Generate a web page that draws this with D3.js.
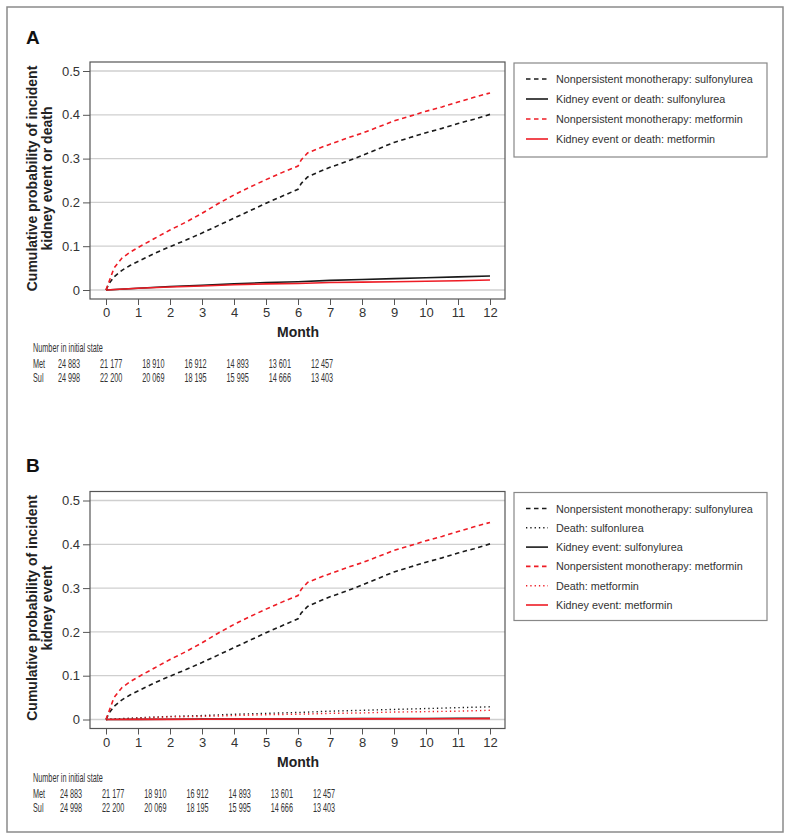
<!DOCTYPE html>
<html><head><meta charset="utf-8">
<script src="https://cdn.jsdelivr.net/npm/d3@7/dist/d3.min.js"></script>
<style>body{margin:0;background:#fff}svg{display:block}</style>
</head><body>
<script>
// ---------- DATA ----------
const monthTicks = [0,1,2,3,4,5,6,7,8,9,10,11,12];
const yTicks = [0,0.1,0.2,0.3,0.4,0.5];

const tDashed = [0,0.1,0.25,0.5,0.75,1,1.5,2,2.5,3,3.5,4,4.5,5,5.5,6,6.1,6.3,6.6,7,7.5,8,8.5,9,9.5,10,10.5,11,11.5,12];
const nonpersistMet = [0,0.02,0.05,0.073,0.086,0.097,0.117,0.137,0.155,0.175,0.197,0.217,0.235,0.252,0.268,0.283,0.297,0.313,0.322,0.333,0.346,0.358,0.372,0.386,0.397,0.408,0.418,0.429,0.44,0.45];
const nonpersistSul = [0,0.015,0.03,0.045,0.056,0.065,0.083,0.099,0.114,0.13,0.147,0.164,0.181,0.198,0.214,0.23,0.243,0.258,0.268,0.28,0.293,0.307,0.322,0.337,0.348,0.359,0.369,0.38,0.39,0.401];

const tEvent = [0,1,2,3,4,5,6,7,8,9,10,11,12];
const kidneyDeathSul = [0,0.004,0.008,0.011,0.014,0.017,0.019,0.022,0.024,0.026,0.028,0.030,0.032];
const kidneyDeathMet = [0,0.004,0.007,0.009,0.012,0.014,0.015,0.017,0.018,0.019,0.020,0.021,0.023];
const deathSul = [0,0.004,0.007,0.009,0.012,0.014,0.016,0.019,0.021,0.023,0.025,0.027,0.029];
const deathMet = [0,0.003,0.006,0.007,0.009,0.011,0.012,0.014,0.015,0.017,0.018,0.019,0.021];
const kidneySul = [0,0.0003,0.0006,0.0009,0.0011,0.0013,0.0015,0.0017,0.0019,0.0022,0.0024,0.0027,0.003];
const kidneyMet = [0,0.0002,0.0004,0.0006,0.0008,0.0009,0.0011,0.0012,0.0014,0.0015,0.0017,0.0018,0.002];

const riskRows = ["Met","Sul"];
const riskMet = ["24 883","21 177","18 910","16 912","14 893","13 601","12 457"];
const riskSul = ["24 998","22 200","20 069","18 195","15 995","14 666","13 403"];

const legendA = ["Nonpersistent monotherapy: sulfonylurea","Kidney event or death: sulfonylurea","Nonpersistent monotherapy: metformin","Kidney event or death: metformin"];
const legendB = ["Nonpersistent monotherapy: sulfonylurea","Death: sulfonlurea","Kidney event: sulfonylurea","Nonpersistent monotherapy: metformin","Death: metformin","Kidney event: metformin"];

// ---------- DRAW ----------
const W = 791, H = 840;
const RED = "#ee1c25", BLK = "#1a1a1a";
const FONT = "Liberation Sans, Arial, sans-serif";
const STY = {
  dash: {da:"4.5,3.5", w:1.6},
  dot:  {da:"1.3,3", w:1.4},
  solid:{da:null, w:1.6}
};
const svg = d3.select("body").append("svg").attr("width",W).attr("height",H);
svg.append("rect").attr("x",7).attr("y",7).attr("width",776).attr("height",825)
  .attr("fill","none").attr("stroke","#8a8a8a").attr("stroke-width",1.5);

function condensed(g, txt, x, y, anchor){
  return g.append("text").attr("transform",`translate(${x},${y}) scale(0.56,1)`)
    .attr("text-anchor",anchor||"start").text(txt)
    .attr("font-family",FONT).attr("font-size",13).attr("fill","#333");
}

function panel(o){
  const g = svg.append("g");
  const x = d3.scaleLinear().domain([0,12]).range([106,490]);
  const y = d3.scaleLinear().domain([0,0.5]).range([o.y0, o.y0-219]);
  const top = o.y0-228, bottom = o.y0+9;
  g.append("text").attr("x",26).attr("y",o.labelY).text(o.label)
    .attr("font-family",FONT).attr("font-weight","bold").attr("font-size",19).attr("fill","#111");
  g.selectAll(".grid").data(yTicks).join("line")
    .attr("x1",90).attr("x2",505).attr("y1",d=>y(d)).attr("y2",d=>y(d))
    .attr("stroke","#cfcfcf").attr("stroke-width",1.3);
  g.append("rect").attr("x",90).attr("y",top).attr("width",415).attr("height",bottom-top)
    .attr("fill","none").attr("stroke","#555").attr("stroke-width",1.2);
  const ya = g.append("g").attr("transform","translate(90,0)")
    .call(d3.axisLeft(y).tickValues(yTicks).tickFormat(d=>d===0?"0":d3.format(".1f")(d)).tickSize(7).tickPadding(3));
  ya.select(".domain").remove();
  ya.selectAll("line").attr("stroke","#555");
  ya.selectAll("text").attr("font-family",FONT).attr("font-size",13).attr("fill","#333");
  const xa = g.append("g").attr("transform",`translate(0,${bottom})`)
    .call(d3.axisBottom(x).tickValues(monthTicks).tickFormat(d3.format("d")).tickSize(6).tickPadding(3));
  xa.select(".domain").remove();
  xa.selectAll("line").attr("stroke","#555");
  xa.selectAll("text").attr("font-family",FONT).attr("font-size",13).attr("fill","#333");
  g.append("text").attr("x",x(6)).attr("y",bottom+38).attr("text-anchor","middle").text("Month")
    .attr("font-family",FONT).attr("font-weight","bold").attr("font-size",14).attr("fill","#222");
  const cy = (top+bottom)/2 - 2;
  o.ytitle.forEach((t,i)=>{
    g.append("text").attr("transform",`translate(${37+i*15},${cy}) rotate(-90)`).attr("text-anchor","middle").text(t)
      .attr("font-family",FONT).attr("font-weight","bold").attr("font-size",14).attr("fill","#222");
  });
  const line = d3.line().x(d=>x(d[0])).y(d=>y(d[1]));
  o.series.forEach(s=>{
    const st = STY[s.style];
    g.append("path").datum(s.t.map((t,i)=>[t,s.v[i]])).attr("d",line)
      .attr("fill","none").attr("stroke",s.color).attr("stroke-width",st.w)
      .attr("stroke-dasharray",st.da);
  });
  const lg = g.append("g");
  lg.append("rect").attr("x",514).attr("y",top+1).attr("width",253).attr("height",o.legH)
    .attr("fill","none").attr("stroke","#888").attr("stroke-width",1.2);
  o.legend.forEach((t,i)=>{
    const s = o.legSeries[i], st = STY[s.style];
    const ly = top+17+i*o.legStep;
    lg.append("line").attr("x1",526).attr("x2",548).attr("y1",ly).attr("y2",ly)
      .attr("stroke",s.color).attr("stroke-width",st.w).attr("stroke-dasharray",st.da);
    lg.append("text").attr("x",556).attr("y",ly+4).text(t)
      .attr("font-family",FONT).attr("font-size",10.8).attr("fill","#333");
  });
  const rx = d3.scaleLinear().domain([0,6]).range([o.rx0, o.rx0+253]);
  condensed(g,"Number in initial state",33,bottom+53);
  [riskMet,riskSul].forEach((row,r)=>{
    const yy = bottom+69+r*14;
    condensed(g,riskRows[r],33,yy);
    row.forEach((d,i)=>condensed(g,d,rx(i),yy,"middle"));
  });
}

panel({
  label:"A", labelY:44, y0:290, ytitle:["Cumulative probability of incident","kidney event or death"],
  series:[
    {t:tEvent,v:kidneyDeathSul,color:BLK,style:"solid"},
    {t:tEvent,v:kidneyDeathMet,color:RED,style:"solid"},
    {t:tDashed,v:nonpersistSul,color:BLK,style:"dash"},
    {t:tDashed,v:nonpersistMet,color:RED,style:"dash"}
  ],
  legend:legendA, legStep:20, legH:94,
  legSeries:[{color:BLK,style:"dash"},{color:BLK,style:"solid"},{color:RED,style:"dash"},{color:RED,style:"solid"}],
  rx0:69
});
panel({
  label:"B", labelY:472, y0:719.5, ytitle:["Cumulative probability of incident","kidney event"],
  series:[
    {t:tEvent,v:deathSul,color:BLK,style:"dot"},
    {t:tEvent,v:deathMet,color:RED,style:"dot"},
    {t:tEvent,v:kidneySul,color:BLK,style:"solid"},
    {t:tEvent,v:kidneyMet,color:RED,style:"solid"},
    {t:tDashed,v:nonpersistSul,color:BLK,style:"dash"},
    {t:tDashed,v:nonpersistMet,color:RED,style:"dash"}
  ],
  legend:legendB, legStep:19.3, legH:128,
  legSeries:[{color:BLK,style:"dash"},{color:BLK,style:"dot"},{color:BLK,style:"solid"},{color:RED,style:"dash"},{color:RED,style:"dot"},{color:RED,style:"solid"}],
  rx0:71
});
</script>
</body></html>
